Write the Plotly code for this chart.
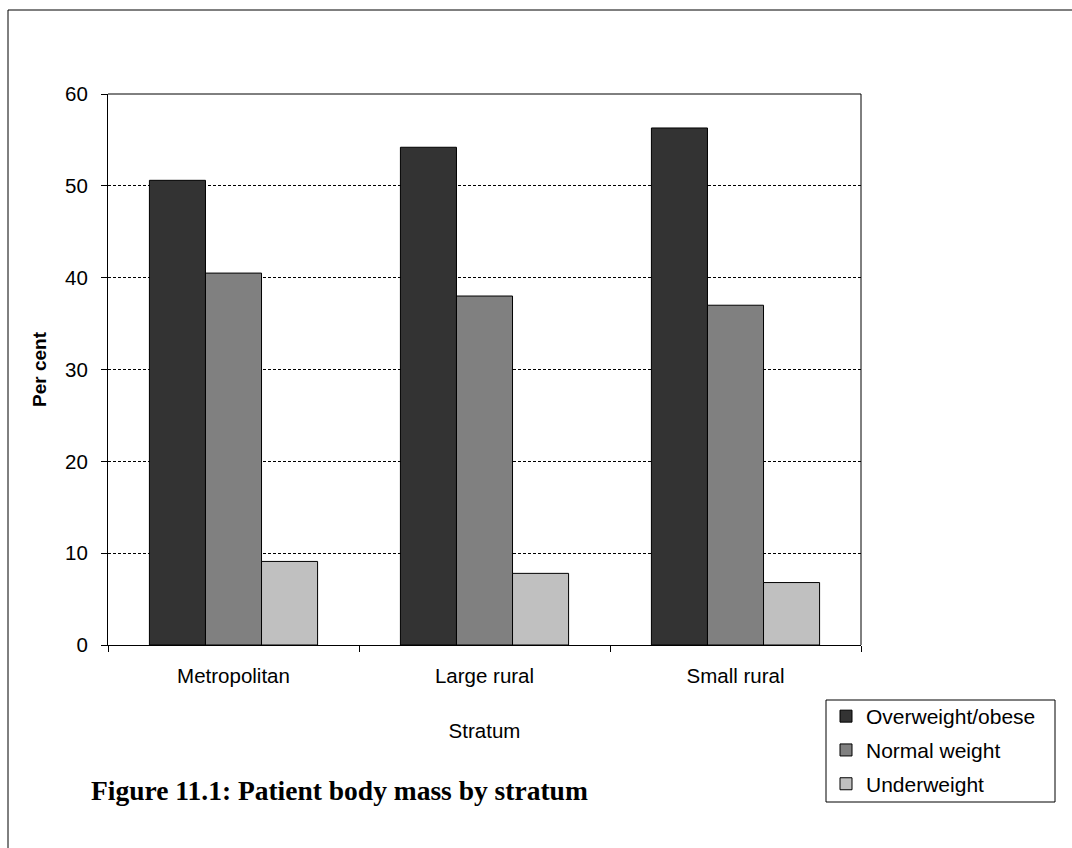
import plotly.graph_objects as go

# Patient body mass (% of patients) by practice stratum
strata = ["Metropolitan", "Large rural", "Small rural"]
overweight_obese = [50.6, 54.2, 56.3]
normal_weight = [40.5, 38.0, 37.0]
underweight = [9.1, 7.8, 6.8]

series = [
    ("Overweight/obese", overweight_obese, "#333333"),
    ("Normal weight", normal_weight, "#808080"),
    ("Underweight", underweight, "#c0c0c0"),
]

W, H = 1072, 848
L, R, T, B = 108, 211, 94, 203
pw, ph = W - L - R, H - T - B


def px_x(x):
    return (x - L) / pw


def px_y(y):
    return (T + ph - y) / ph


fig = go.Figure()
for name, vals, col in series:
    fig.add_trace(go.Bar(
        x=strata, y=vals, name=name, legendgroup=name,
        marker=dict(color=col, line=dict(color="#000000", width=1)),
    ))

family = "Arial, Liberation Sans, sans-serif"
font = dict(family=family, size=20.5, color="#000000")

fig.update_layout(
    width=W, height=H,
    margin=dict(l=L, r=R, t=T, b=B),
    paper_bgcolor="white", plot_bgcolor="white",
    barmode="group", bargap=0.33, bargroupgap=0,
    font=font,
    showlegend=True,
    legend=dict(
        x=px_x(826), y=px_y(696), xanchor="left", yanchor="top",
        borderwidth=0, bgcolor="rgba(0,0,0,0)",
        font=dict(family=family, size=21, color="#000000"),
        traceorder="grouped", tracegroupgap=3.5, itemwidth=30,
    ),
    xaxis=dict(
        showline=True, linecolor="#000000", linewidth=1,
        ticks="outside", tickson="boundaries", ticklen=6, tickcolor="#000000",
        ticklabelstandoff=12,
        title=dict(text="Stratum", font=font, standoff=38),
        showgrid=False, zeroline=False,
    ),
    yaxis=dict(
        range=[0, 60], dtick=10,
        showline=True, linecolor="#000000", linewidth=1,
        ticks="outside", ticklen=6, tickcolor="#000000",
        ticklabelstandoff=9,
        showgrid=True, gridcolor="#000000", gridwidth=1, griddash="3px,2px",
        zeroline=False,
        title=dict(text="<b>Per cent</b>", font=dict(family=family, size=19, color="#000000"),
                   standoff=13),
    ),
)

# Plot-area frame (top and right edges)
fig.add_shape(type="line", xref="paper", yref="paper", x0=0, x1=1, y0=1, y1=1,
              line=dict(color="#000000", width=1))
fig.add_shape(type="line", xref="paper", yref="paper", x0=1, x1=1, y0=0, y1=1,
              line=dict(color="#000000", width=1))

# Legend frame
fig.add_shape(type="rect", xref="paper", yref="paper",
              x0=px_x(826), x1=px_x(1055), y0=px_y(802), y1=px_y(700),
              line=dict(color="#000000", width=1), fillcolor="rgba(0,0,0,0)")

# Outer chart border
fig.add_shape(type="rect", xref="paper", yref="paper",
              x0=px_x(8), x1=px_x(W + 20), y0=px_y(H + 20), y1=px_y(10),
              line=dict(color="#000000", width=1), fillcolor="rgba(0,0,0,0)",
              layer="below")

# Figure caption
fig.add_annotation(
    text="<b>Figure 11.1: Patient body mass by stratum</b>",
    xref="paper", yref="paper",
    x=px_x(89), y=px_y(790), xanchor="left", yanchor="middle",
    showarrow=False,
    font=dict(family="Liberation Serif, DejaVu Serif, serif", size=27.5, color="#000000"),
)

fig.write_html("out.html")
